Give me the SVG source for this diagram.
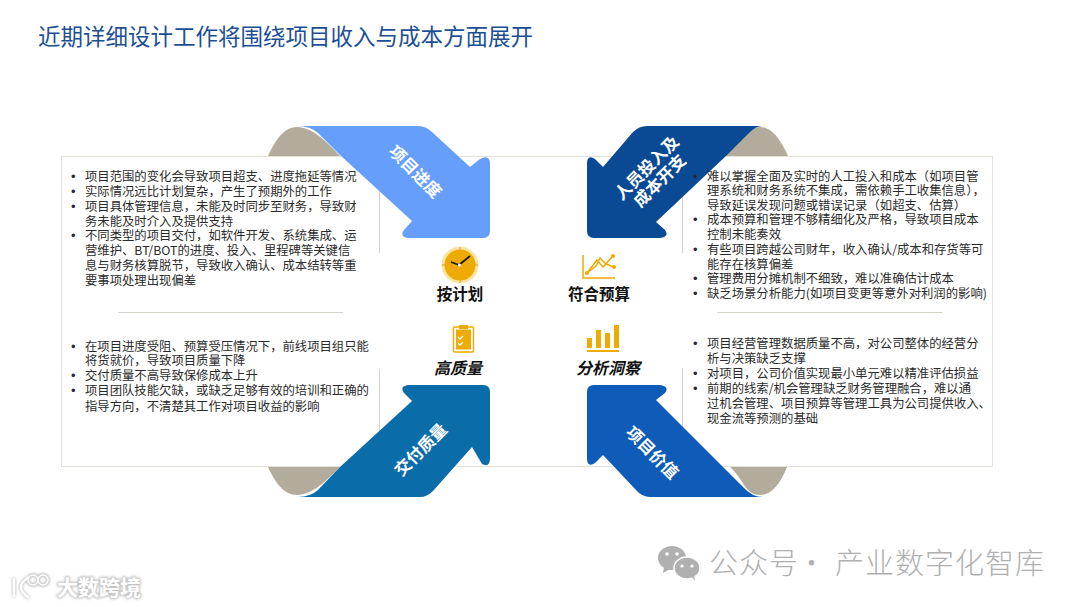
<svg xmlns="http://www.w3.org/2000/svg" width="1080" height="607" viewBox="0 0 1080 607">
<defs>
<style>
text{font-family:"Noto Sans CJK SC","Liberation Sans",sans-serif}
.t{font-size:12.350px;fill:#2b2b2b}
.b{font-family:"Liberation Sans",sans-serif;font-size:13px}
.h{font-size:15.500px;font-weight:700;fill:#111;text-anchor:middle}
.i{font-size:16px;font-style:italic}
.a{font-size:16.500px;font-weight:700;fill:#fff;text-anchor:middle;dominant-baseline:central}
.ln{stroke:#e3e1da;stroke-width:1;fill:none}
.in{stroke:#d6d2ca;stroke-width:1;fill:none}
.g{fill:#eeab06}
.gs{stroke:#eeab06;fill:none;stroke-width:1.500}
.wm{font-size:29px;fill:#b0b0b0;font-weight:300;letter-spacing:1px}
</style>
<filter id="halo" x="-20%" y="-40%" width="140%" height="180%"><feGaussianBlur stdDeviation="1.300"/></filter>
</defs>
<rect width="1080" height="607" fill="#fff"/>
<text id="title" x="38" y="45" font-size="22.500" fill="#1c4f96">近期详细设计工作将围绕项目收入与成本方面展开</text>

<g id="frame">
<path d="M268 156C276 138 285 127 297 127C312 127 326 141 340 156Z" fill="#b3ac9c"/>
<path d="M788 156C780 138 771 127 760 127C745 127 739 141 725 156Z" fill="#b3ac9c"/>
<path d="M268 467C276 485 285 495 297 495C312 495 326 481 340 467Z" fill="#b3ac9c"/>
<path d="M787 467C780 485 771 495 760 495C745 495 745 481 730 467Z" fill="#b3ac9c"/>
<rect class="ln" x="61.500" y="156.500" width="931" height="310"/>
<path class="in" d="M379.500 156V253M682.500 156V253M379.500 369V440M682.500 368V430M118 312.500H343M717 312.500H942"/>
</g>

<g id="connectors">
<path id="arrow-progress" fill="#659ffb" d="M298 126H418Q426 126 432 132L470 167L480 159Q490 154 490 164V231Q490 238 483 238H409Q399 237 404 230L412 221L340 155L318 133Q310 126 298 126Z"/>
<path id="arrow-cost" fill="#0a4a94" d="M762 126H647Q639 126 633 132L603 167L595 159Q587 154 587 164V231Q587 238 594 238H659Q670 237 665 230L656 222L727 155L750 132Q756 126 762 126Z"/>
<path id="arrow-quality" fill="#0a6ca8" d="M298 497H420Q427 497 433 491L472 447L482 464Q490 468 490 458V392Q490 385 483 385H409Q399 386 404 393L412 401L340 467L318 490Q310 497 298 497Z"/>
<path id="arrow-value" fill="#0e5cb8" d="M763 497H650Q642 497 636 490L603 455L595 463Q587 468 587 458V392Q587 385 594 385H659Q670 386 665 393L656 400L743 487Q752 497 763 497Z"/>
</g>

<g id="arrow-labels">
<text class="a" transform="translate(416 171) rotate(45)">项目进度</text>
<text class="a" font-size="16" transform="translate(646 167) rotate(-45)">人员投入及</text>
<text class="a" transform="translate(659 180) rotate(-45)">成本开支</text>
<text class="a" transform="translate(420 449) rotate(-45)">交付质量</text>
<text class="a" transform="translate(653 452) rotate(45)">项目价值</text>
</g>

<g id="node-plan">
<circle cx="460" cy="265" r="18.500" fill="#fbe3a0"/>
<circle cx="460" cy="265" r="15.500" fill="#eeab06"/>
<path d="M460 247v4M460 279v4M442 265h4M474 265h4" stroke="#e39a1c" stroke-width="1"/>
<path d="M459 265L470 256M459 265L451 262" stroke="#1a1a1a" stroke-width="1.800" fill="none"/>
<circle cx="459.500" cy="265" r="1.500" fill="#fff"/>
<text class="h" x="460" y="300">按计划</text>
</g>
<g id="node-budget">
<path class="gs" d="M583 255V278H615"/>
<path class="gs" d="M587 273L597 260L603 267L613 256M587 273L596 266L600 258L606 264L614 267"/>
<circle class="g" cx="587" cy="273" r="2"/><circle class="g" cx="613" cy="256" r="2"/><circle class="g" cx="614" cy="267" r="2"/>
<text class="h" x="599" y="300">符合预算</text>
</g>
<g id="node-quality">
<rect x="453.500" y="327" width="20" height="25" rx="1" fill="#fff" stroke="#eeab06" stroke-width="1.400"/>
<rect x="456" y="329.500" width="15" height="20" class="g"/>
<rect x="459" y="325" width="9" height="4" class="g"/>
<path d="M458 337l2 2 3-3M458 343l2 2 3-3" stroke="#fff" stroke-width="1.300" fill="none"/>
<text class="h i" x="458" y="374">高质量</text>
</g>
<g id="node-insight">
<rect class="g" x="587" y="338" width="5" height="10"/><rect class="g" x="596" y="330" width="5" height="18"/><rect class="g" x="605" y="333" width="5" height="15"/><rect class="g" x="614" y="325" width="5" height="23"/>
<rect class="g" x="587" y="350" width="32" height="2"/>
<text class="h i" x="608" y="374">分析洞察</text>
</g>

<text id="text-progress" class="t"><tspan class="b" x="71" y="181">•</tspan><tspan x="85" y="181">项目范围的变化会导致项目超支、进度拖延等情况</tspan><tspan class="b" x="71" y="196">•</tspan><tspan x="85" y="196">实际情况远比计划复杂，产生了预期外的工作</tspan><tspan class="b" x="71" y="211">•</tspan><tspan x="85" y="211">项目具体管理信息，未能及时同步至财务，导致财</tspan><tspan x="85" y="226">务未能及时介入及提供支持</tspan><tspan class="b" x="71" y="240">•</tspan><tspan x="85" y="240">不同类型的项目交付，如软件开发、系统集成、运</tspan><tspan x="85" y="255">营维护、BT/BOT的进度、投入、里程碑等关键信</tspan><tspan x="85" y="270">息与财务核算脱节，导致收入确认、成本结转等重</tspan><tspan x="85" y="285">要事项处理出现偏差</tspan></text>
<text id="text-cost" class="t"><tspan class="b" x="693" y="181">•</tspan><tspan x="707" y="181">难以掌握全面及实时的人工投入和成本（如项目管</tspan><tspan x="707" y="195">理系统和财务系统不集成，需依赖手工收集信息），</tspan><tspan x="707" y="210">导致延误发现问题或错误记录（如超支、估算）</tspan><tspan class="b" x="693" y="224">•</tspan><tspan x="707" y="224">成本预算和管理不够精细化及严格，导致项目成本</tspan><tspan x="707" y="239">控制未能奏效</tspan><tspan class="b" x="693" y="254">•</tspan><tspan x="707" y="254">有些项目跨越公司财年，收入确认/成本和存货等可</tspan><tspan x="707" y="269">能存在核算偏差</tspan><tspan class="b" x="693" y="283">•</tspan><tspan x="707" y="283">管理费用分摊机制不细致，难以准确估计成本</tspan><tspan class="b" x="693" y="298">•</tspan><tspan x="707" y="298">缺乏场景分析能力(如项目变更等意外对利润的影响)</tspan></text>
<text id="text-quality" class="t"><tspan class="b" x="71" y="351">•</tspan><tspan x="85" y="351">在项目进度受阻、预算受压情况下，前线项目组只能</tspan><tspan x="85" y="365">将货就价，导致项目质量下降</tspan><tspan class="b" x="71" y="380">•</tspan><tspan x="85" y="380">交付质量不高导致保修成本上升</tspan><tspan class="b" x="71" y="395">•</tspan><tspan x="85" y="395">项目团队技能欠缺，或缺乏足够有效的培训和正确的</tspan><tspan x="85" y="411">指导方向，不清楚其工作对项目收益的影响</tspan></text>
<text id="text-value" class="t"><tspan class="b" x="693" y="348">•</tspan><tspan x="707" y="348">项目经营管理数据质量不高，对公司整体的经营分</tspan><tspan x="707" y="363">析与决策缺乏支撑</tspan><tspan class="b" x="693" y="378">•</tspan><tspan x="707" y="378">对项目，公司价值实现最小单元难以精准评估损益</tspan><tspan class="b" x="693" y="393">•</tspan><tspan x="707" y="393">前期的线索/机会管理缺乏财务管理融合，难以通</tspan><tspan x="707" y="408">过机会管理、项目预算等管理工具为公司提供收入、</tspan><tspan x="707" y="423">现金流等预测的基础</tspan></text>

<g id="watermark-wechat">
<ellipse cx="672" cy="558" rx="14" ry="12" fill="#b0b0b0"/><path d="M664 567l-1 6 7-4Z" fill="#b0b0b0"/>
<ellipse cx="687" cy="568" rx="13" ry="11" fill="#b0b0b0" stroke="#fff" stroke-width="1.500"/><path d="M692 577l3 4-1-6Z" fill="#b0b0b0"/>
<circle cx="667" cy="554" r="1.800" fill="#fff"/><circle cx="677" cy="554" r="1.800" fill="#fff"/>
<circle cx="682" cy="566" r="1.600" fill="#fff"/><circle cx="692" cy="566" r="1.600" fill="#fff"/>
<text class="wm" x="709" y="574">公众号</text><text class="wm" x="797" y="574">·</text><text class="wm" x="835" y="574">产业数字化智库</text>
</g>
<g id="watermark-brand">
<g filter="url(#halo)" stroke="#c4c4c4" stroke-width="4" fill="none">
<path d="M14 578V597M29 577Q13 587 29 598"/><circle cx="33" cy="580" r="5"/><circle cx="43" cy="580" r="5"/>
<text x="57" y="595" font-size="21" font-weight="700" fill="#c4c4c4" stroke-width="2.500">大数跨境</text>
</g>
<g stroke="#fff" stroke-width="2.500" fill="none">
<path d="M14 578V597M29 577Q13 587 29 598"/><circle cx="33" cy="580" r="5" stroke-width="1.500"/><circle cx="43" cy="580" r="5" stroke-width="1.500"/>
</g>
<text x="57" y="595" font-size="21" font-weight="700" fill="#fff">大数跨境</text>
</g>
</svg>
